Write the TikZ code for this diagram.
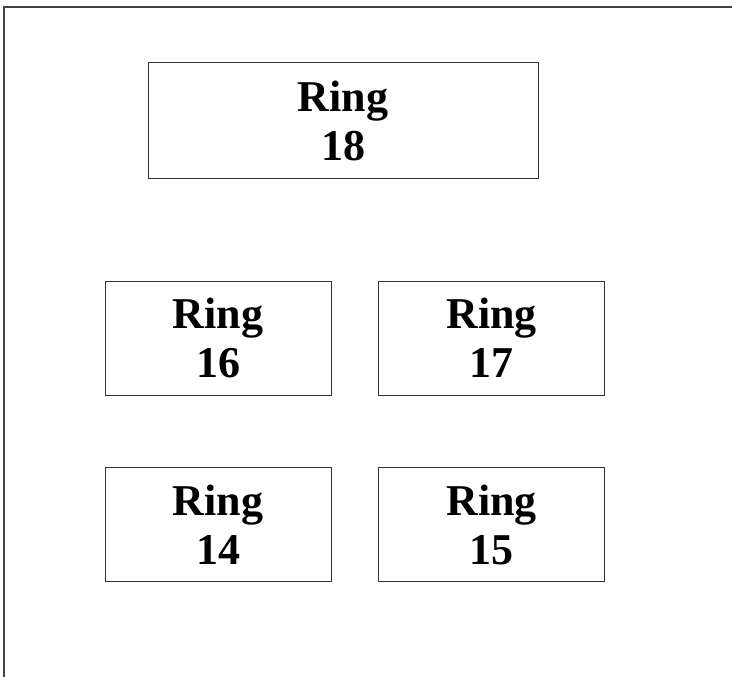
\documentclass[tikz,border=0pt]{standalone}
\usepackage{fontspec}
\setmainfont{Liberation Serif}
\usepackage{xcolor}
\usepackage{tikz}
\definecolor{edge}{HTML}{333333}
\definecolor{frame}{HTML}{444444}
\tikzset{
  ringbox/.style={draw=edge, line width=1pt, rectangle, inner sep=0pt, align=center,
    font=\fontsize{44}{49}\selectfont\bfseries},
  wide/.style={ringbox, minimum width=390pt, minimum height=115pt},
  narrow/.style={ringbox, minimum width=226pt, minimum height=114pt},
  rim/.style={draw=frame, line width=1.2pt},
}

\begin{document}
\begin{tikzpicture}[x=1pt, y=-1pt]
  \useasboundingbox (0,0) rectangle (732,677);
  \coordinate (TL) at (4,7);
  \coordinate (TR) at (732,7);
  \coordinate (BL) at (4,677);

  \draw[rim] (TR) -- (TL) -- (BL);

  \node[wide]   (r18) at (343,120.5) {Ring\\18};
  \node[narrow] (r16) at (218,338)   {Ring\\16};
  \node[narrow] (r17) at (491.5,338) {Ring\\17};
  \node[narrow] (r14) at (218,524.5) {Ring\\14};
  \node[narrow] (r15) at (491.5,524.5) {Ring\\15};
\end{tikzpicture}
\end{document}
